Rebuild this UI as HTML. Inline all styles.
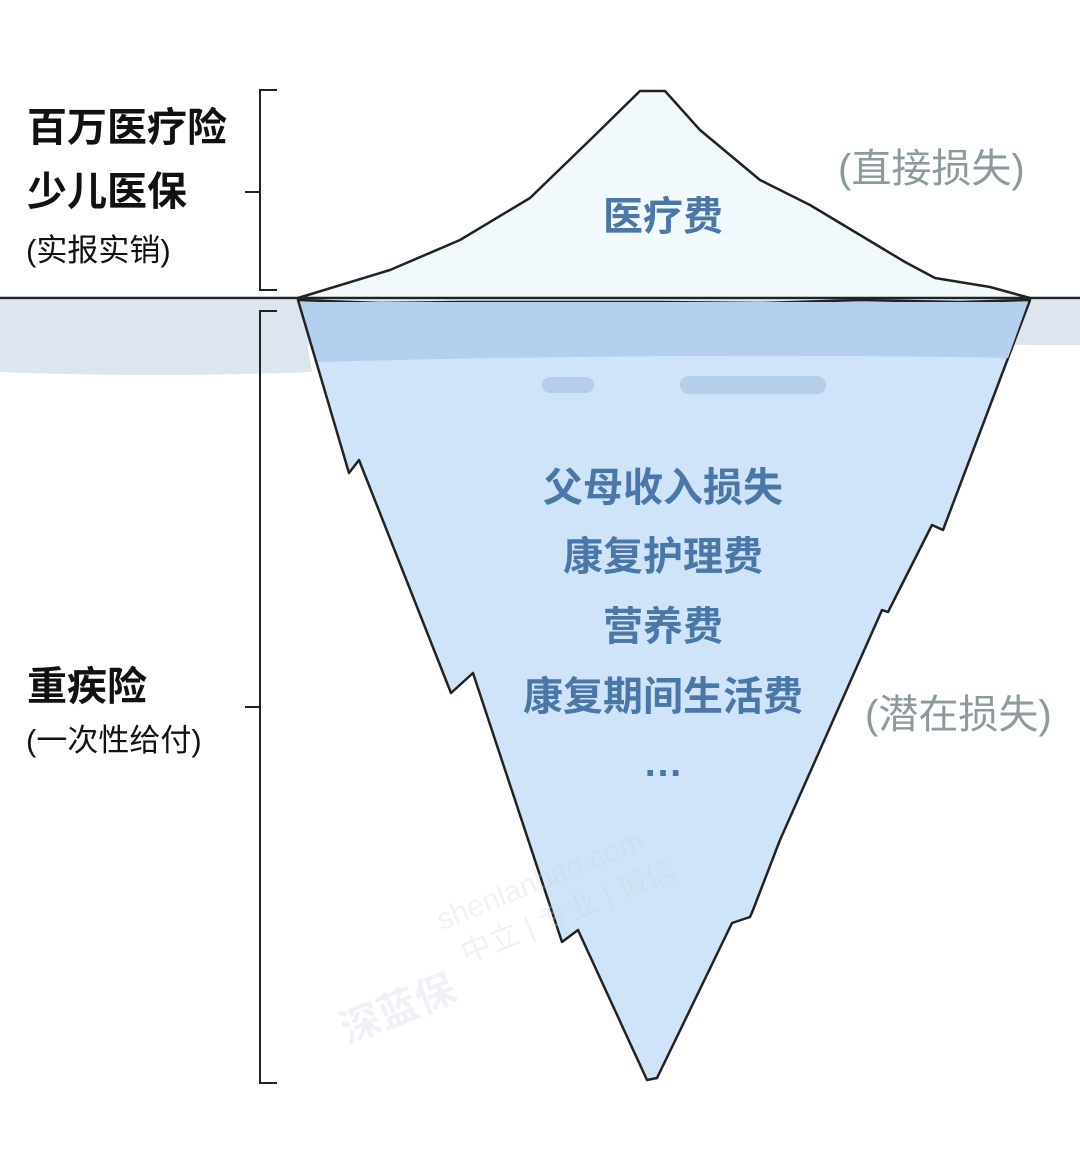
<!DOCTYPE html>
<html><head><meta charset="utf-8"><style>
body{margin:0;width:1080px;height:1175px;background:#fff;position:relative;overflow:hidden;font-family:"Liberation Sans","Noto Sans CJK SC",sans-serif}
.t{position:absolute;white-space:nowrap;line-height:1}
.l{font-weight:bold;font-size:40px;color:#111;left:27px}
.s{font-size:31px;color:#111;left:26px}
.g{font-size:40px;color:#8c9a9e}
.b{font-weight:bold;font-size:40px;color:#4a76a8;text-align:center;left:123px;width:1080px}
</style></head><body>
<svg width="1080" height="1175" style="position:absolute;left:0;top:0">
<rect x="0" y="300" width="1080" height="45" fill="#dde6ee"/>
<path d="M0 300 H300 L312 372 Q150 378 0 372 Z" fill="#dde6ee"/>
<path d="M298 298 L390 270 L460 240 L530 198 L590 140 L640 91 L665 91 L700 130 L760 180 L810 205 L860 235 L905 262 L935 278 L990 287 L1030 298 Z" fill="#f1f9fd" stroke="#222" stroke-width="2.5" stroke-linejoin="round"/>
<path d="M298 300 L349 473 L359 460 L451 693 L473 673 L562 942 L578 930 L647 1080 L657 1078 L732 923 L750 917 L753 910 L780 840 L882 610 L888 612 L932 525 L943 530 L1030 300 L960 302 L860 300 L760 303 L660 302 L560 302 L460 302 L380 303 Z" fill="#cfe4f8" stroke="#222" stroke-width="2.5" stroke-linejoin="round"/>
<path d="M300 302 L1028 302 L1008 358 Q700 352 318 362 Z" fill="#b4d0ee"/>
<rect x="542" y="377" width="52" height="16" rx="8" fill="#b5cfea"/>
<rect x="680" y="376" width="146" height="18" rx="9" fill="#b5cfea"/>
<line x1="0" y1="298" x2="300" y2="298" stroke="#222" stroke-width="2.5"/>
<line x1="1028" y1="298" x2="1080" y2="298" stroke="#222" stroke-width="2.5"/>
<g stroke="#222" stroke-width="2" fill="none">
<path d="M277 90 H260 V290 H277"/><line x1="245" y1="192" x2="260" y2="192"/>
<path d="M277 311 H260 V1083 H277"/><line x1="245" y1="707" x2="260" y2="707"/>
</g>
<g fill="#c8d6e4" opacity="0.3" font-family="Liberation Sans,Noto Sans CJK SC,sans-serif" transform="rotate(-22 540 880)">
<text x="430" y="890" font-size="30">shenlanbao.com</text>
<text x="440" y="930" font-size="30">中立 | 专业 | 诚信</text>
<text x="300" y="960" font-size="40" font-weight="bold">深蓝保</text>
</g>
</svg>
<div class="t l" style="top:108px">百万医疗险</div>
<div class="t l" style="top:172px">少儿医保</div>
<div class="t s" style="top:235px">(实报实销)</div>
<div class="t l" style="top:667px">重疾险</div>
<div class="t s" style="top:725px">(一次性给付)</div>
<div class="t g" style="left:838px;top:149px">(直接损失)</div>
<div class="t g" style="left:865px;top:695px">(潜在损失)</div>
<div class="t b" style="top:197px">医疗费</div>
<div class="t b" style="top:468px">父母收入损失</div>
<div class="t b" style="top:537px">康复护理费</div>
<div class="t b" style="top:607px">营养费</div>
<div class="t b" style="top:677px">康复期间生活费</div>
<div class="t b" style="top:743px">…</div>
</body></html>
